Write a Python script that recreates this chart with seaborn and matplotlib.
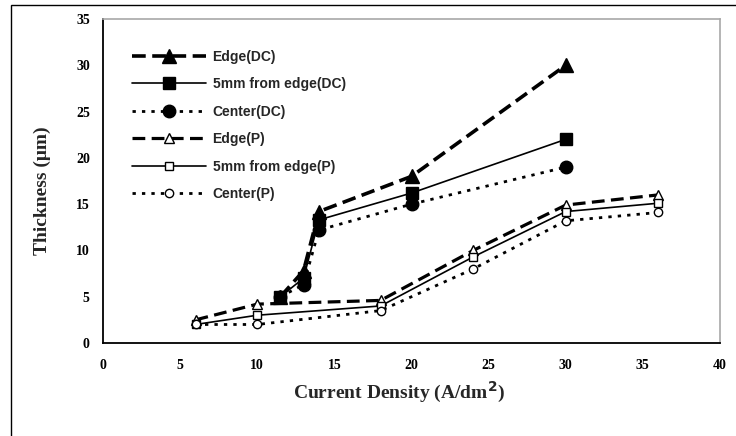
import matplotlib
matplotlib.use("Agg")
import matplotlib.pyplot as plt
import seaborn as sns
import pandas as pd
from matplotlib.patches import Rectangle
from matplotlib.ticker import MultipleLocator

# current density (A/dm2) for the two plating modes
dc_x = [11.5, 13, 14, 20, 30]
p_x = [6, 10, 18, 24, 30, 36]

# thickness (um)
edge_dc = [5, 7.8, 14.2, 18, 30]
mm5_dc = [5, 7.0, 13.3, 16.2, 22]
center_dc = [5, 6.3, 12.2, 15, 19]
edge_p = [2.5, 4.2, 4.6, 10, 14.9, 16]
mm5_p = [2.0, 3.0, 4.0, 9.3, 14.2, 15.1]
center_p = [2.0, 2.0, 3.5, 8.0, 13.2, 14.1]

labels = ["Edge(DC)", "5mm from edge(DC)", "Center(DC)",
          "Edge(P)", "5mm from edge(P)", "Center(P)"]

rows = []
for name, xs, ys in zip(labels,
                        [dc_x, dc_x, dc_x, p_x, p_x, p_x],
                        [edge_dc, mm5_dc, center_dc, edge_p, mm5_p, center_p]):
    for x, y in zip(xs, ys):
        rows.append({"series": name, "density": x, "thickness": y})
df = pd.DataFrame(rows)

sns.set_style("white")

styles = {
    "Edge(DC)": dict(marker="^", mfc="black", ms=9.5, lw=2.6, dashes=(3.8, 1.8)),
    "5mm from edge(DC)": dict(marker="s", mfc="black", ms=9, lw=1.2, ls="-"),
    "Center(DC)": dict(marker="o", mfc="black", ms=9, lw=2.0, dashes=(1.2, 2.2)),
    "Edge(P)": dict(marker="^", mfc="white", ms=6.5, lw=2.3, dashes=(4.0, 2.0)),
    "5mm from edge(P)": dict(marker="s", mfc="white", ms=6, lw=1.2, ls="-"),
    "Center(P)": dict(marker="o", mfc="white", ms=6, lw=2.0, dashes=(1.2, 2.2)),
}

fig = plt.figure(figsize=(7.36, 4.36), dpi=100)
ax = fig.add_axes([103 / 736, 1 - 343 / 436, 617 / 736, 324 / 436])

for name in labels:
    sub = df[df["series"] == name]
    st = styles[name]
    kw = dict(marker=st["marker"], markerfacecolor=st["mfc"], markeredgecolor="black",
              markersize=st["ms"], markeredgewidth=1.0, linewidth=st["lw"])
    if "dashes" in st:
        kw["dashes"] = st["dashes"]
    else:
        kw["linestyle"] = st["ls"]
    sns.lineplot(data=sub, x="density", y="thickness", ax=ax, color="black",
                 sort=False, estimator=None, label=name, **kw)

ax.set_xlim(0, 40)
ax.set_ylim(0, 35)
ax.xaxis.set_major_locator(MultipleLocator(5))
ax.xaxis.set_minor_locator(MultipleLocator(1))
ax.yaxis.set_major_locator(MultipleLocator(5))
ax.yaxis.set_minor_locator(MultipleLocator(1))
ax.tick_params(which="major", direction="inout", length=7, width=1, colors="black")
ax.tick_params(which="minor", direction="in", length=3, width=0.8, colors="black")
ax.tick_params(axis="x", which="major", pad=8)
ax.tick_params(axis="y", which="major", pad=6)
for lab in ax.get_xticklabels() + ax.get_yticklabels():
    lab.set_fontfamily("Liberation Serif")
    lab.set_fontweight("bold")
    lab.set_fontsize(10)

for side in ["left", "bottom"]:
    ax.spines[side].set_color("black")
    ax.spines[side].set_linewidth(1.3)
for side in ["top", "right"]:
    ax.spines[side].set_color("#a8a8a8")
    ax.spines[side].set_linewidth(1.2)

ax.set_xlabel("Current Density (A/dm$^\\mathbf{2}$)", fontfamily="Liberation Serif",
              fontweight="bold", fontsize=14)
ax.set_ylabel("Thickness (\u03bcm)", fontfamily="Liberation Serif",
              fontweight="bold", fontsize=14)
ax.xaxis.set_label_coords(0.48, -0.115)
ax.yaxis.set_label_coords(-0.085, 0.47)

leg = ax.legend(loc="upper left", bbox_to_anchor=(0.047, 0.905), frameon=False,
                handlelength=5.3, handletextpad=0.5, labelspacing=0.97,
                borderpad=0, borderaxespad=0,
                prop={"family": "Liberation Sans", "weight": "bold", "size": 10})

# outer frame of the original figure
fig.patches.append(Rectangle((11 / 736, -0.1), 1.2, 0.1 + 1 - 5 / 436,
                             transform=fig.transFigure, fill=False,
                             edgecolor="black", linewidth=1.0))

fig.savefig("out.png", dpi=100)
